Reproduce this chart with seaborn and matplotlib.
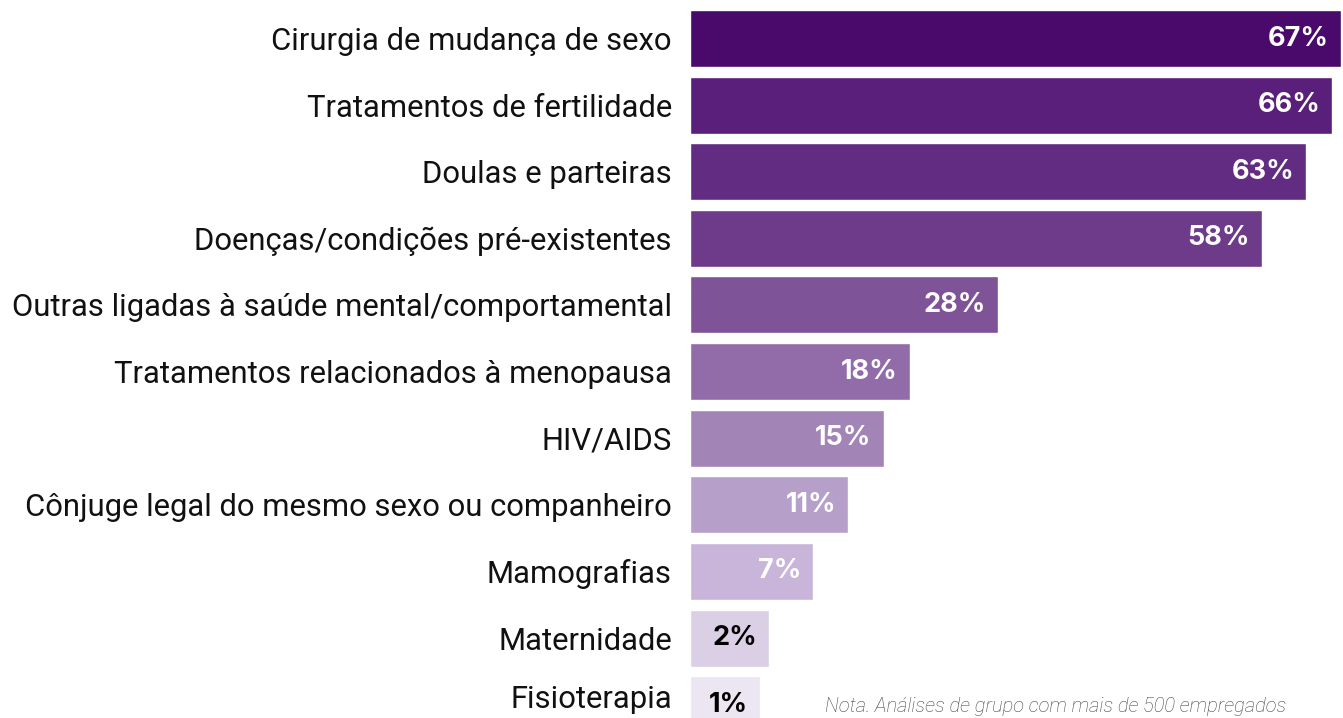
import numpy as np
import pandas as pd
import matplotlib
matplotlib.use("Agg")
import matplotlib.pyplot as plt
import seaborn as sns

categories = [
    "Cirurgia de mudança de sexo",
    "Tratamentos de fertilidade",
    "Doulas e parteiras",
    "Doenças/condições pré-existentes",
    "Outras ligadas à saúde mental/comportamental",
    "Tratamentos relacionados à menopausa",
    "HIV/AIDS",
    "Cônjuge legal do mesmo sexo ou companheiro",
    "Mamografias",
    "Maternidade",
    "Fisioterapia",
]
values = [67, 66, 63, 58, 28, 18, 15, 11, 7, 2, 1]
value_labels = ["67%", "66%", "63%", "58%", "28%", "18%", "15%", "11%", "7%", "2%", "1%"]
note_text = "Nota. Análises de grupo com mais de 500 empregados"

palette = ["#4a0a6b", "#5a1f7b", "#632c83", "#6e3b8b", "#7f5398", "#916ca9",
           "#a284b7", "#b69fc9", "#c8b5d9", "#dacfe5", "#ece6f2"]
label_colors = ["white"] * 9 + ["black", "black"]

BAR_BASE = 7  # minimum visual bar length (style, as in reference)

sns.set_theme(style="white")
plt.rcParams["font.family"] = ["Roboto", "DejaVu Sans"]

df = pd.DataFrame({"cat": categories, "val": values})
df["bar"] = df["val"] + BAR_BASE

fig = plt.figure(figsize=(13.43, 7.18), dpi=100)
ax = fig.add_axes([690 / 1343, 0, 653 / 1343, 1])

sns.barplot(data=df, x="bar", y="cat", hue="cat", palette=palette, legend=False,
            orient="h", width=0.856, saturation=1, ax=ax)

ax.set_xlim(0, 74.2)
ax.set_ylim(10.2, -0.578)
ax.set_xlabel("")
ax.set_ylabel("")
ax.set_xticks([])
for s in ax.spines.values():
    s.set_visible(False)

# category labels (last one nudged up so it stays inside the figure)
ax.set_yticks(range(len(categories)), labels=categories[:-1] + [""])
ax.tick_params(axis="y", length=0, pad=13, labelsize=22.3, labelcolor="#111111")
ax.annotate(categories[-1], xy=(0, len(categories) - 1), xytext=(-18, 5),
            textcoords="offset pixels", ha="right", va="center",
            fontsize=22.3, color="#111111", annotation_clip=False)

for i, (b, lab, col) in enumerate(zip(df["bar"], value_labels, label_colors)):
    ax.annotate(lab, xy=(b, i), xytext=(-12, 0), textcoords="offset pixels",
                ha="right", va="center", color=col, fontsize=19.5,
                fontweight="bold", family=["Inter", "DejaVu Sans"], clip_on=False)

fig.text(825 / 1343, 1 - 697 / 718, note_text, ha="left", va="top",
         fontsize=14.5, style="italic", fontweight="light", color="#444444")

fig.savefig("out.png", dpi=100)
